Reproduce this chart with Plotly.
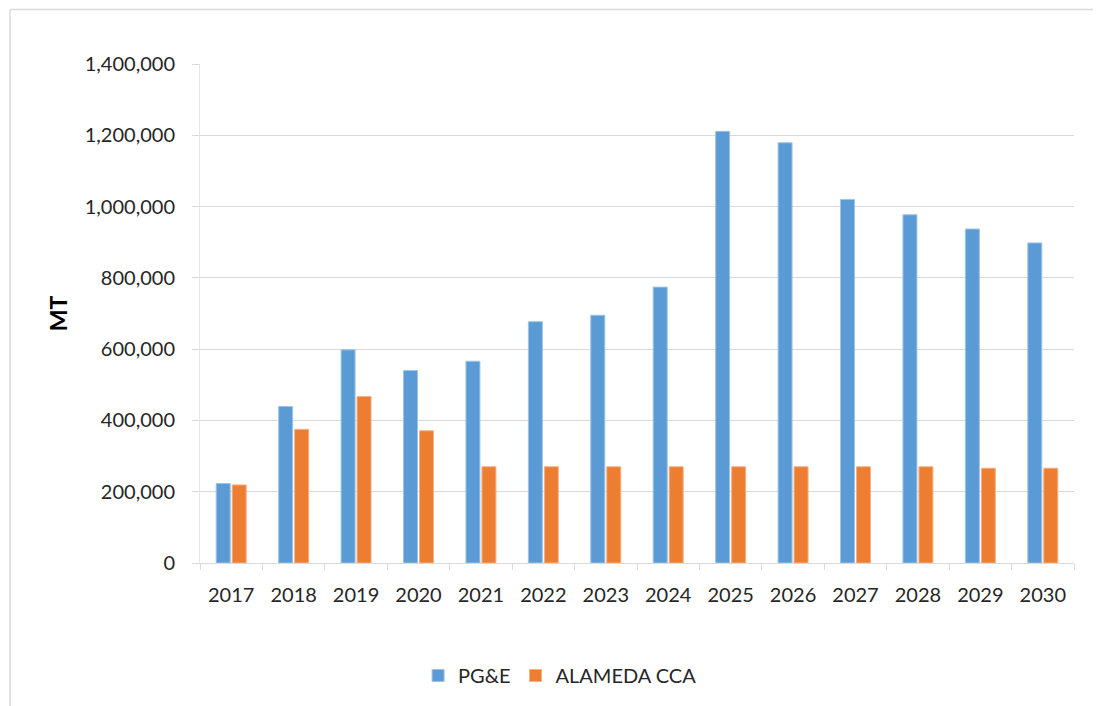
import plotly.graph_objects as go

years = ["2017", "2018", "2019", "2020", "2021", "2022", "2023", "2024",
         "2025", "2026", "2027", "2028", "2029", "2030"]
pge = [223000, 439000, 598000, 540000, 566000, 677000, 695000, 774000,
       1211000, 1179000, 1020000, 977000, 937000, 898000]
alameda = [219000, 375000, 467000, 371000, 270000, 270000, 270000, 270000,
           270000, 270000, 270000, 270000, 266000, 266000]
y_ticks = [0, 200000, 400000, 600000, 800000, 1000000, 1200000, 1400000]

FONT = "Lato, 'Open Sans', sans-serif"

fig = go.Figure()
fig.add_trace(go.Bar(name="PG&E", x=years, y=pge,
                     marker=dict(color="#5B9BD5", line=dict(color="#9DC3E6", width=1))))
fig.add_trace(go.Bar(name="ALAMEDA CCA", x=years, y=alameda,
                     marker=dict(color="#ED7D31", line=dict(color="#F4B183", width=1))))

border = dict(color="#d9d9d9", width=1.5)
fig.update_layout(
    width=1093, height=698,
    margin=dict(l=192, r=27, t=56, b=142),
    paper_bgcolor="white", plot_bgcolor="white",
    barmode="group", bargap=0.488, bargroupgap=0.125,
    font=dict(family=FONT, size=20, color="#262626"),
    showlegend=True,
    legend=dict(orientation="h", x=0.412, xanchor="center", y=-0.223, yanchor="middle",
                font=dict(size=20, color="#262626"), itemwidth=30, traceorder="normal"),
    shapes=[
        dict(type="line", xref="paper", yref="paper", x0=-0.2174, x1=1.05, y0=1.109, y1=1.109,
             line=border, layer="below"),
        dict(type="line", xref="paper", yref="paper", x0=-0.2174, x1=-0.2174, y0=-0.35, y1=1.109,
             line=border, layer="below"),
    ],
)
fig.update_xaxes(
    showgrid=False, showline=True, linecolor="#d9d9d9", linewidth=1,
    ticks="outside", tickson="boundaries", ticklen=6, tickcolor="#d9d9d9",
    ticklabelstandoff=14,
    tickfont=dict(size=20, color="#262626"),
)
fig.update_yaxes(
    range=[0, 1400000], tickvals=y_ticks, tickformat=",d",
    showgrid=True, gridcolor="#d9d9d9", gridwidth=1,
    showline=True, linecolor="#e6e6e6", linewidth=1,
    ticks="outside", ticklen=7, tickcolor="#d9d9d9", ticklabelstandoff=13,
    zeroline=False,
    tickfont=dict(size=20, color="#262626"),
    title=dict(text="<b>MT</b>", font=dict(size=23, color="#000000"), standoff=10),
)

fig.write_html("out.html")
